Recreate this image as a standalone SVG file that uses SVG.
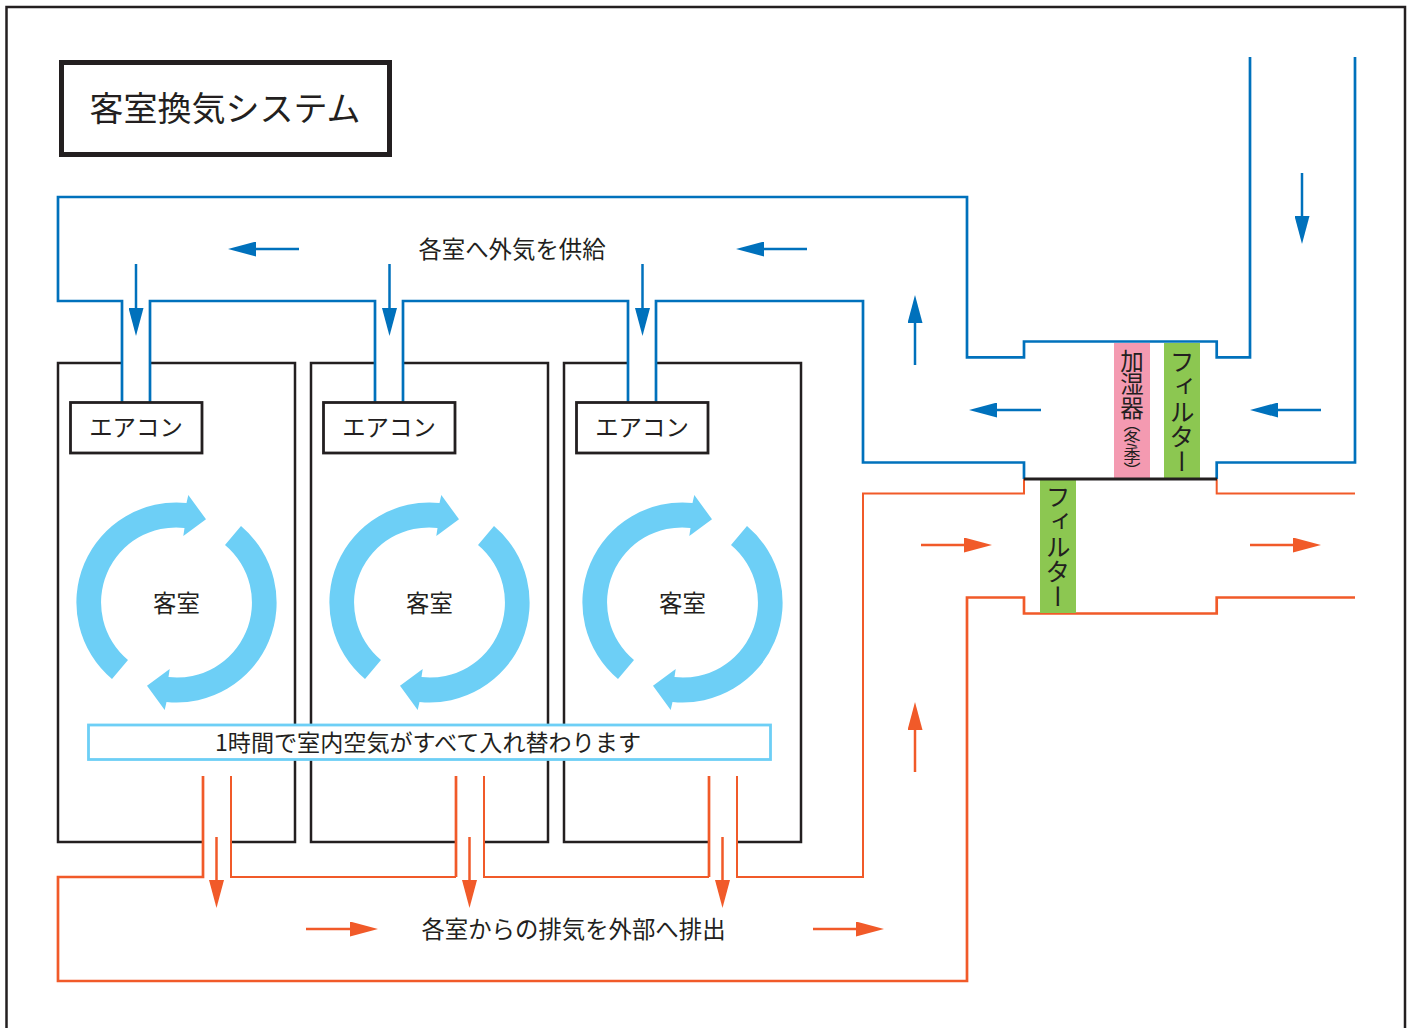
<svg xmlns="http://www.w3.org/2000/svg" width="1411" height="1028" viewBox="0 0 1411 1028">
<style>
text{font-family:"Noto Sans CJK JP","Noto Sans",sans-serif;fill:#231f20;font-weight:400}
.t{font-size:23.4px;text-anchor:middle}
.v{font-size:25px;writing-mode:vertical-rl;text-anchor:start}
.h1{font-size:23.5px;writing-mode:vertical-rl}
.h2{font-size:17px;writing-mode:vertical-rl}
.room{fill:none;stroke:#231f20;stroke-width:2.5}
.ac{fill:#fff;stroke:#231f20;stroke-width:2.8}
.sw{fill:#6dcff6}
.b{fill:none;stroke:#0071bc;stroke-width:2.700}
.o{fill:none;stroke:#f15a29;stroke-width:2.700}
.o2{fill:none;stroke:#f15a29;stroke-width:2}
.ba{stroke:#0071bc;stroke-width:2.5;marker-end:url(#mb)}
.oa{stroke:#f15a29;stroke-width:2.5;marker-end:url(#mo)}
</style>
<defs>
<marker id="mb" markerUnits="userSpaceOnUse" markerWidth="28" markerHeight="15" refX="8" refY="7.5" orient="auto"><path d="M0 0L28 7.500L0 15Z" fill="#0071bc"/></marker>
<marker id="mo" markerUnits="userSpaceOnUse" markerWidth="28" markerHeight="15" refX="8" refY="7.5" orient="auto"><path d="M0 0L28 7.500L0 15Z" fill="#f15a29"/></marker>
<g id="swirl">
<path class="sw" d="M112 679A100 100 0 0 1 186.500 503L188.300 495L206 519.300L183.300 536L184.500 527.900A75 75 0 0 0 128 660Z"/>
<path class="sw" transform="rotate(180 176.500 602.500)" d="M112 679A100 100 0 0 1 186.500 503L188.300 495L206 519.300L183.300 536L184.500 527.900A75 75 0 0 0 128 660Z"/>
</g>
</defs>
<rect width="1411" height="1028" fill="#fff"/>
<path id="frame" d="M6.500 1028V7H1405V1028" fill="none" stroke="#231f20" stroke-width="2.500"/>
<g id="title"><rect x="61.500" y="62.500" width="328" height="92" fill="#fff" stroke="#231f20" stroke-width="5"/><text x="225" y="121" font-size="34" text-anchor="middle">客室換気システム</text></g>

<g id="room1"><path class="room" d="M122 363H58V842H203M231 842H295V363H150"/><use href="#swirl"/><text class="t" x="176.500" y="612">客室</text></g>
<g id="room2"><path class="room" d="M375 363H311V842H456M484 842H548V363H403"/><use href="#swirl" x="253"/><text class="t" x="429.500" y="612">客室</text></g>
<g id="room3"><path class="room" d="M628 363H564V842H709M737 842H801V363H656"/><use href="#swirl" x="506"/><text class="t" x="682.500" y="612">客室</text></g>

<g id="connectors">
<path class="b" d="M1250 57V357.300H1216.700V341.500H1024V357.300H967V197H58V301H122V402M150 402V301H375V402M403 402V301H628V402M656 402V301H863V462.500H1024V479"/>
<path class="b" d="M1216.700 479V462.500H1355V57"/>
<path class="o2" d="M1024 479V493.500H863V877H737V776M484 776V877H709M231 776V877H456"/>
<path class="o" d="M456 776V877M709 776V877"/>
<path class="o" d="M203 776V877H58V981H967V597.500H1024V613.500H1216.700V597.500H1355"/>
<path class="o2" d="M1216.700 479V493.500H1355"/>
<line class="ba" x1="299" y1="249" x2="248" y2="249"/>
<line class="ba" x1="807" y1="249" x2="756" y2="249"/>
<line class="ba" x1="1041" y1="410" x2="989" y2="410"/>
<line class="ba" x1="1321" y1="410" x2="1270" y2="410"/>
<line class="ba" x1="915" y1="365" x2="915" y2="315"/>
<line class="ba" x1="1302" y1="173" x2="1302" y2="224"/>
<line class="ba" x1="136" y1="264" x2="136" y2="316"/>
<line class="ba" x1="389.500" y1="264" x2="389.500" y2="316"/>
<line class="ba" x1="642.500" y1="264" x2="642.500" y2="316"/>
<line class="oa" x1="306" y1="929" x2="358" y2="929"/>
<line class="oa" x1="813" y1="929" x2="864" y2="929"/>
<line class="oa" x1="921" y1="545" x2="972" y2="545"/>
<line class="oa" x1="1250" y1="545" x2="1301" y2="545"/>
<line class="oa" x1="915" y1="772" x2="915" y2="722"/>
<line class="oa" x1="216.500" y1="837" x2="216.500" y2="888"/>
<line class="oa" x1="469.500" y1="837" x2="469.500" y2="888"/>
<line class="oa" x1="722.500" y1="837" x2="722.500" y2="888"/>
</g>

<g id="ac1"><rect class="ac" x="70.500" y="402.500" width="131.500" height="50.500"/><text class="t" x="136" y="436">エアコン</text></g>
<g id="ac2"><rect class="ac" x="323.500" y="402.500" width="131.500" height="50.500"/><text class="t" x="389" y="436">エアコン</text></g>
<g id="ac3"><rect class="ac" x="576.500" y="402.500" width="131.500" height="50.500"/><text class="t" x="642" y="436">エアコン</text></g>

<g id="info"><rect x="88.500" y="725" width="682" height="34.500" fill="#fff" stroke="#6dcff6" stroke-width="2.800"/><text class="t" style="font-size:23.100px" x="428" y="751">1時間で室内空気がすべて入れ替わります</text></g>
<g id="label-supply"><text class="t" x="512" y="258">各室へ外気を供給</text></g>
<g id="label-exhaust"><text class="t" x="573.500" y="938">各室からの排気を外部へ排出</text></g>

<g id="humidifier"><rect x="1114" y="343" width="36" height="135" fill="#f49ab1"/><text class="h1" x="1132" y="349">加湿器</text><text class="h2" x="1132" y="415 430 447 462">（冬季）</text></g>
<g id="filter1"><rect x="1164" y="343" width="36" height="135" fill="#8cc751"/><text class="v" x="1182" y="349">フィルター</text></g>
<g id="filter2"><rect x="1040" y="480" width="36" height="133" fill="#8cc751"/><text class="v" x="1058" y="484">フィルター</text></g>
<line id="divider" x1="1024" y1="479" x2="1217" y2="479" stroke="#231f20" stroke-width="2.800"/>
</svg>
